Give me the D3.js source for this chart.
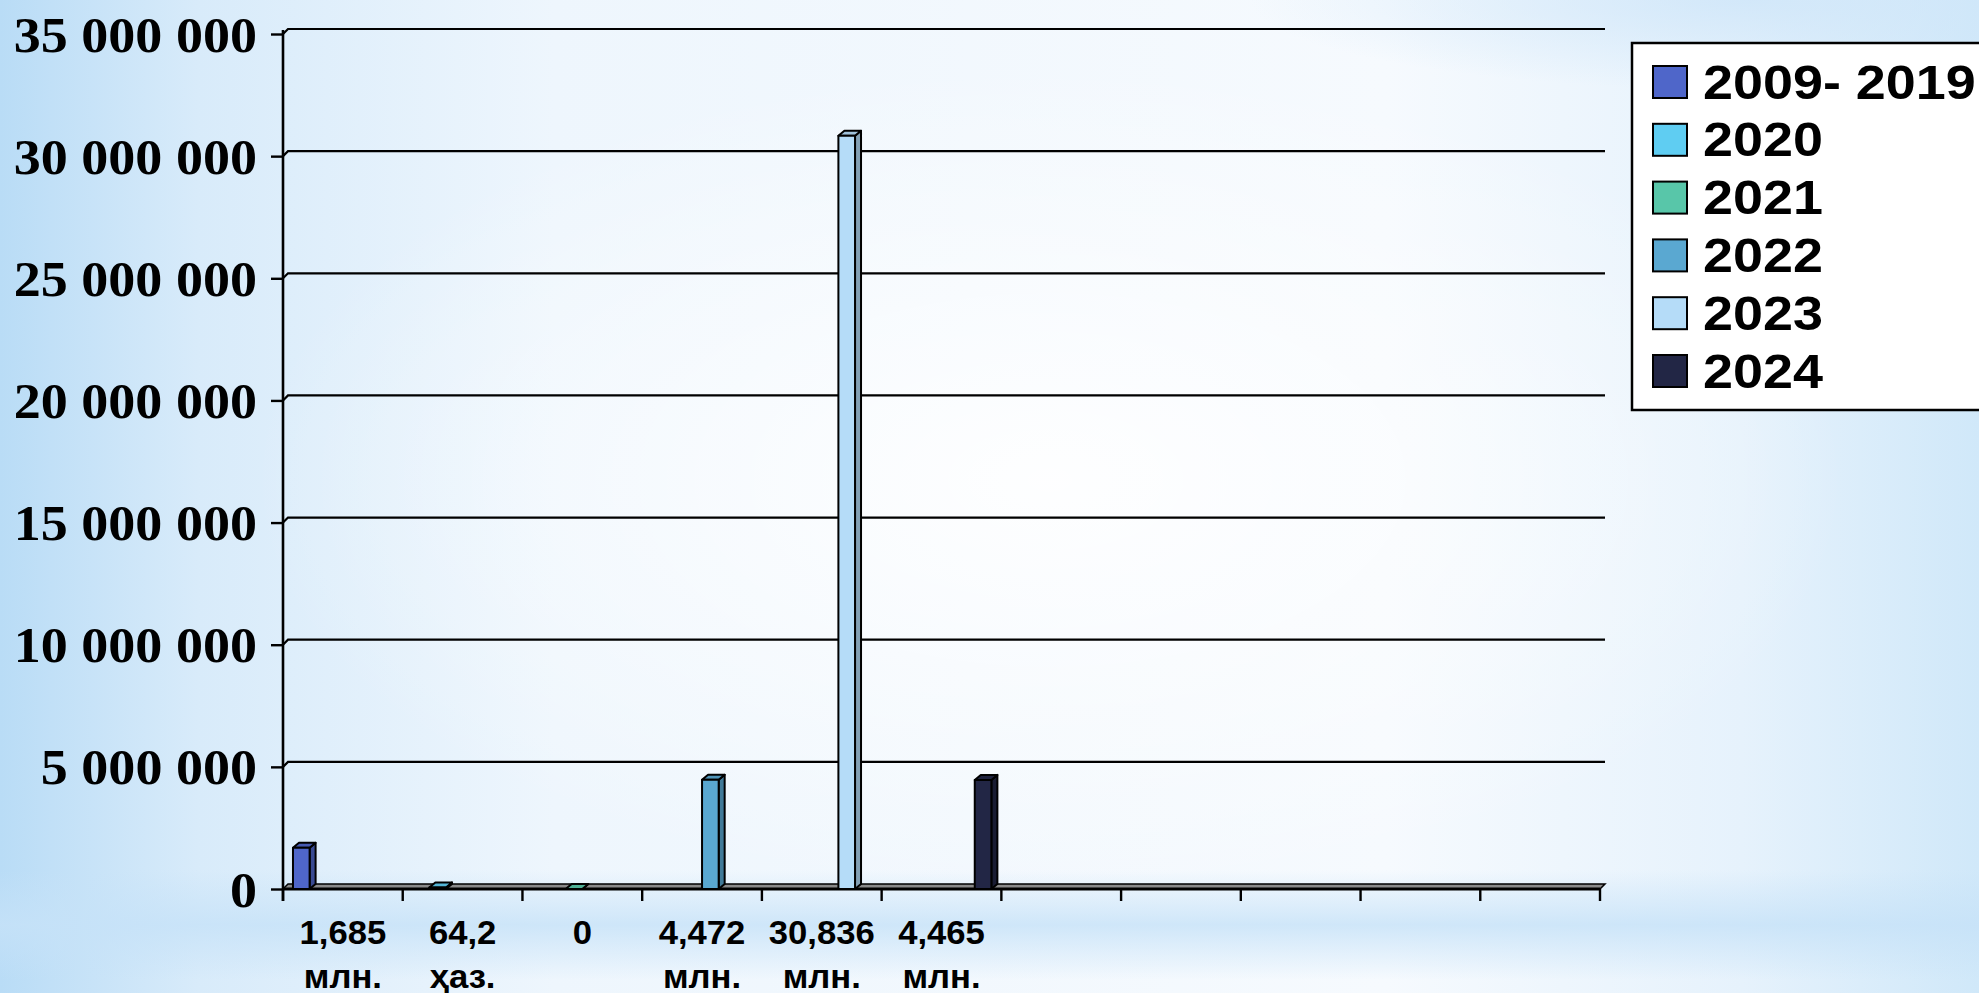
<!DOCTYPE html>
<html>
<head>
<meta charset="utf-8">
<script src="https://cdn.jsdelivr.net/npm/d3@7/dist/d3.min.js"></script>
<style>
  html, body { margin: 0; padding: 0; overflow: hidden; }
  svg { display: block; }
  text { white-space: pre; }
</style>
</head>
<body>
<svg id="chart" width="1979" height="993"></svg>
<script>
// ---------------- data ----------------
const categories = ["1,685|млн.", "64,2|ҳаз.", "0", "4,472|млн.", "30,836|млн.", "4,465|млн.", "", "", "", "", ""];
const seriesNames = ["2009- 2019", "2020", "2021", "2022", "2023", "2024"];
const seriesColors = ["#4f66c9", "#5fcdf2", "#58c6a9", "#5aa8d1", "#b5dcf8", "#222645"];
// one value per series, each in its own category (others empty)
const s2009_2019 = [1685000, null, null, null, null, null, null, null, null, null, null];
const s2020      = [null, 64200, null, null, null, null, null, null, null, null, null];
const s2021      = [null, null, 0, null, null, null, null, null, null, null, null];
const s2022      = [null, null, null, 4472000, null, null, null, null, null, null, null];
const s2023      = [null, null, null, null, 30836000, null, null, null, null, null, null];
const s2024      = [null, null, null, null, null, 4465000, null, null, null, null, null];
const seriesValues = [s2009_2019, s2020, s2021, s2022, s2023, s2024];
const yTicks = [0, 5000000, 10000000, 15000000, 20000000, 25000000, 30000000, 35000000];

// ---------------- layout ----------------
const svg = d3.select("#chart");
const W = 1979, H = 993;
const pLeft = 283, pRight = 1600, pTop = 34, pBottom = 889;
const wall = {dx: 5, dy: -5};
const barD = {dx: 6, dy: -5};

// ---------------- background ----------------
const defs = svg.append("defs");
const lg = defs.append("linearGradient").attr("id", "bgL").attr("x1", 0).attr("x2", 1).attr("y1", 0).attr("y2", 0);
lg.append("stop").attr("offset", 0).attr("stop-color", "#b9dcf6");
lg.append("stop").attr("offset", 0.1).attr("stop-color", "#d8ebfa");
lg.append("stop").attr("offset", 0.28).attr("stop-color", "#eef6fd");
lg.append("stop").attr("offset", 0.7).attr("stop-color", "#f6fafe");
lg.append("stop").attr("offset", 0.88).attr("stop-color", "#e6f2fc");
lg.append("stop").attr("offset", 1).attr("stop-color", "#d0e8f9");
svg.append("rect").attr("width", W).attr("height", H).attr("fill", "url(#bgL)");

const rg = defs.append("radialGradient").attr("id", "bgC");
rg.append("stop").attr("offset", 0).attr("stop-color", "#ffffff").attr("stop-opacity", 0.9);
rg.append("stop").attr("offset", 1).attr("stop-color", "#ffffff").attr("stop-opacity", 0);
svg.append("ellipse").attr("cx", 1050).attr("cy", 480).attr("rx", 800).attr("ry", 420).attr("fill", "url(#bgC)");

const bb = defs.append("linearGradient").attr("id", "bgB").attr("x1", 0).attr("x2", 0).attr("y1", 0).attr("y2", 1);
bb.append("stop").attr("offset", 0).attr("stop-color", "#c6e2f8").attr("stop-opacity", 0);
bb.append("stop").attr("offset", 0.5).attr("stop-color", "#c6e2f8").attr("stop-opacity", 0.8);
bb.append("stop").attr("offset", 1).attr("stop-color", "#c6e2f8").attr("stop-opacity", 0);
svg.append("rect").attr("x", 0).attr("y", 870).attr("width", W).attr("height", 110).attr("fill", "url(#bgB)");

const tr = defs.append("radialGradient").attr("id", "bgT");
tr.append("stop").attr("offset", 0).attr("stop-color", "#cfe6f9").attr("stop-opacity", 0.85);
tr.append("stop").attr("offset", 1).attr("stop-color", "#cfe6f9").attr("stop-opacity", 0);
svg.append("ellipse").attr("cx", 1750).attr("cy", 0).attr("rx", 500).attr("ry", 90).attr("fill", "url(#bgT)");

// ---------------- scales ----------------
const x = d3.scaleBand().domain(d3.range(categories.length)).range([pLeft, pRight]).paddingInner(0).paddingOuter(0);
const x1 = d3.scaleBand().domain(d3.range(seriesNames.length)).range([0, x.bandwidth()]).paddingInner(0).paddingOuter(0.6);
const y = d3.scaleLinear().domain([0, 35000000]).range([pBottom, pTop]);
const loc = d3.formatLocale({decimal: ",", thousands: " ", grouping: [3], currency: ["", ""]});
const fmt = loc.format(",");

function stretchedText(g, tx, ty, sx, str, attrs) {
  const gg = g.append("g").attr("transform", `translate(${tx},${ty}) scale(${sx},1)`);
  const t = gg.append("text").text(str);
  for (const k in attrs) t.attr(k, attrs[k]);
  return t;
}

// ---------------- gridlines (back wall + side wall) ----------------
const grid = svg.append("g");
yTicks.forEach(t => {
  const yy = y(t);
  if (t === 0) return;
  grid.append("path")
    .attr("d", `M${pLeft},${yy} L${pLeft + wall.dx},${yy + wall.dy} L${pRight + wall.dx},${yy + wall.dy}`)
    .attr("fill", "none").attr("stroke", "#000").attr("stroke-width", 2.2);
});

// ---------------- floor ----------------
svg.append("path")
  .attr("d", `M${pLeft},${pBottom} L${pRight},${pBottom} L${pRight + wall.dx},${pBottom + wall.dy} L${pLeft + wall.dx},${pBottom + wall.dy} Z`)
  .attr("fill", "#8a8a8a").attr("stroke", "#000").attr("stroke-width", 1.5);

// ---------------- y axis ----------------
const yAxis = d3.axisLeft(y).tickValues(yTicks).tickSize(12).tickFormat("");
const yg = svg.append("g").attr("transform", `translate(${pLeft},0)`).call(yAxis);
yg.select(".domain").attr("stroke", "#000").attr("stroke-width", 2.6).attr("d", `M0,${pTop - 4}V${pBottom + 12}`);
yg.selectAll(".tick line").attr("stroke", "#000").attr("stroke-width", 2.4);
yTicks.forEach(t => {
  stretchedText(svg, 257, y(t) + 17.5, 1.06, fmt(t), {
    "text-anchor": "end", "font-family": "Liberation Serif, Times New Roman, serif",
    "font-weight": "bold", "font-size": 51, "fill": "#000"
  });
});

// ---------------- x axis ----------------
const xAxis = d3.axisBottom(x).tickSize(0).tickFormat("");
const xg = svg.append("g").attr("transform", `translate(0,${pBottom})`).call(xAxis);
xg.select(".domain").attr("stroke", "#000").attr("stroke-width", 3).attr("d", `M${pLeft},0H${pRight}`);
xg.selectAll(".tick").remove();
const bounds = d3.range(categories.length + 1).map(i => i < categories.length ? x(i) : x(i - 1) + x.bandwidth());
xg.selectAll("line.bt").data(bounds).join("line").attr("class", "bt")
  .attr("x1", d => d).attr("x2", d => d).attr("y1", 0).attr("y2", 12)
  .attr("stroke", "#000").attr("stroke-width", 2.4);

categories.forEach((c, i) => {
  const lines = c.split("|");
  const cx = x(i) + x.bandwidth() / 2;
  lines.forEach((ln, j) => {
    if (!ln) return;
    stretchedText(svg, cx, 944 + j * 44, 1.05, ln, {
      "text-anchor": "middle", "font-family": "Liberation Sans, Arial, sans-serif",
      "font-weight": "bold", "font-size": 33, "fill": "#000"
    });
  });
});

// ---------------- bars (3D columns) ----------------
const bars = svg.append("g");
seriesValues.forEach((vals, s) => {
  const col = d3.color(seriesColors[s]);
  const sideCol = col.darker(0.9);
  const topCol = col.darker(0.35);
  vals.forEach((v, i) => {
    if (v === null || v === undefined) return;
    const x0 = x(i) + x1(s), w = x1.bandwidth();
    const yt = y(v), yb = y(0);
    const g = bars.append("g").attr("stroke", "#000").attr("stroke-width", 2).attr("stroke-linejoin", "round");
    g.append("path")
      .attr("d", `M${x0 + w},${yt} L${x0 + w + barD.dx},${yt + barD.dy} L${x0 + w + barD.dx},${yb + barD.dy} L${x0 + w},${yb} Z`)
      .attr("fill", sideCol);
    g.append("path")
      .attr("d", `M${x0},${yt} L${x0 + barD.dx},${yt + barD.dy} L${x0 + w + barD.dx},${yt + barD.dy} L${x0 + w},${yt} Z`)
      .attr("fill", topCol);
    g.append("rect").attr("x", x0).attr("y", yt).attr("width", w).attr("height", Math.max(0, yb - yt))
      .attr("fill", col);
  });
});

// ---------------- legend ----------------
const lgG = svg.append("g");
lgG.append("rect").attr("x", 1632).attr("y", 43).attr("width", 420).attr("height", 367)
  .attr("fill", "#ffffff").attr("stroke", "#000").attr("stroke-width", 2.5);
seriesNames.forEach((n, i) => {
  const ry = 66 + i * 57.8;
  lgG.append("rect").attr("x", 1653).attr("y", ry).attr("width", 34).attr("height", 32)
    .attr("fill", seriesColors[i]).attr("stroke", "#000").attr("stroke-width", 2);
  stretchedText(lgG, 1703, ry + 32.5, 1.1, n, {
    "font-family": "Liberation Sans, Arial, sans-serif", "font-weight": "bold",
    "font-size": 49, "fill": "#000"
  });
});
</script>
</body>
</html>
